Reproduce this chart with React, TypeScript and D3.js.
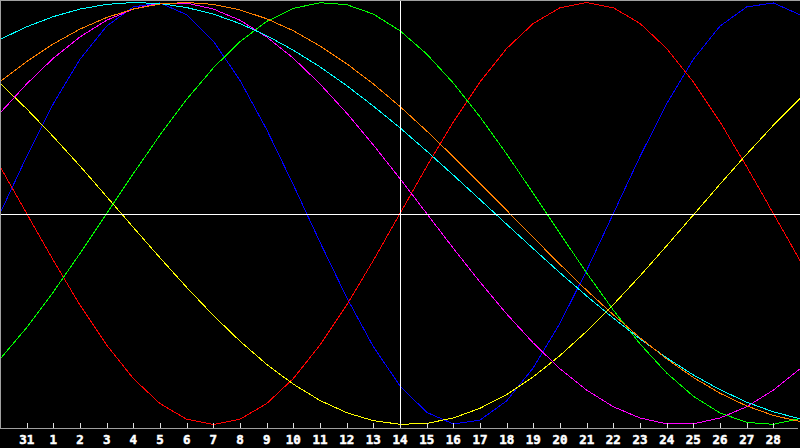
import React, { useEffect } from "react";
import * as d3 from "d3";

// Day index 0..30 (30 Dec .. 29 Jan style), ticks at index 1..29
const tickLabels = ["31","1","2","3","4","5","6","7","8","9","10","11","12","13","14","15","16","17","18","19","20","21","22","23","24","25","26","27","28"];

const blueSeries = [0,0.270,0.520,0.731,0.888,0.979,0.998,0.942,0.817,0.631,0.398,0.136,-0.136,-0.398,-0.631,-0.817,-0.942,-0.998,-0.979,-0.888,-0.731,-0.520,-0.270,0,0.270,0.520,0.731,0.888,0.979,0.998,0.942];
const redSeries = [0.2225,0,-0.2225,-0.434,-0.6235,-0.782,-0.901,-0.975,-1,-0.975,-0.901,-0.782,-0.6235,-0.434,-0.2225,0,0.2225,0.434,0.6235,0.782,0.901,0.975,1,0.975,0.901,0.782,0.6235,0.434,0.2225,0,-0.2225];
const greenSeries = [-0.690,-0.541,-0.372,-0.189,0,0.189,0.372,0.541,0.690,0.815,0.910,0.972,0.999,0.990,0.945,0.866,0.756,0.618,0.458,0.282,0.095,-0.095,-0.282,-0.458,-0.618,-0.756,-0.866,-0.945,-0.990,-0.999,-0.972];
const yellowSeries = [0.617,0.496,0.364,0.225,0.080,-0.066,-0.210,-0.350,-0.483,-0.605,-0.715,-0.809,-0.886,-0.944,-0.982,-0.999,-0.995,-0.969,-0.923,-0.858,-0.774,-0.673,-0.558,-0.432,-0.296,-0.153,-0.007,0.139,0.281,0.418,0.545];
const magentaSeries = [0.476,0.614,0.736,0.837,0.916,0.969,0.997,0.997,0.969,0.916,0.837,0.736,0.614,0.476,0.325,0.165,0,-0.165,-0.325,-0.476,-0.614,-0.736,-0.837,-0.916,-0.969,-0.997,-0.997,-0.969,-0.916,-0.837,-0.736];
const cyanSeries = [0.825,0.885,0.933,0.969,0.991,1.000,0.995,0.976,0.945,0.900,0.843,0.774,0.695,0.606,0.509,0.406,0.296,0.182,0.066,-0.051,-0.167,-0.281,-0.391,-0.496,-0.594,-0.684,-0.765,-0.835,-0.894,-0.940,-0.973];
const orangeSeries = [0.625,0.720,0.804,0.874,0.929,0.969,0.993,1.000,0.991,0.965,0.923,0.866,0.794,0.710,0.614,0.507,0.391,0.269,0.143,0.015,-0.114,-0.241,-0.364,-0.480,-0.589,-0.689,-0.777,-0.852,-0.912,-0.957,-0.986];

const seriesList = [
  { name: "blue", values: blueSeries, color: "#0000ff" },
  { name: "red", values: redSeries, color: "#ff0000" },
  { name: "green", values: greenSeries, color: "#00ff00" },
  { name: "yellow", values: yellowSeries, color: "#ffff00" },
  { name: "magenta", values: magentaSeries, color: "#ff00ff" },
  { name: "cyan", values: cyanSeries, color: "#00ffff" },
  { name: "orange", values: orangeSeries, color: "#ff8000" },
];

const W = 800;
const H = 448;

export default function App() {
  useEffect(() => {
    document.body.style.margin = "0";
    document.body.style.background = "#000";
  }, []);

  const x = d3.scaleLinear().domain([0, 30]).range([0, 800]);
  const y = d3.scaleLinear().domain([-1, 1]).range([424.5, 2.5]);
  const line = d3
    .line<number>()
    .x((_, i) => x(i))
    .y((d) => y(d));

  const axisY = 428.5;
  const zeroY = Math.round(y(0)) + 0.5;
  const midX = Math.round(x(15)) + 0.5;

  return (
    <div style={{ position: "absolute", left: 0, top: 0, width: W, height: H, background: "#000" }}>
      <svg width={W} height={H} style={{ display: "block" }}>
        <rect x={0} y={0} width={W} height={H} fill="#000" />
        <g shapeRendering="crispEdges">
          {seriesList.map((s) => (
            <path key={s.name} d={line(s.values) || ""} fill="none" stroke={s.color} strokeWidth={1} />
          ))}
          <line x1={0} x2={W} y1={zeroY} y2={zeroY} stroke="#ffffff" strokeWidth={1} />
          <line x1={midX} x2={midX} y1={0} y2={axisY} stroke="#ffffff" strokeWidth={1} />
          <line x1={0.5} x2={0.5} y1={0} y2={axisY} stroke="#a0a0a0" strokeWidth={1} />
          <line x1={0} x2={W} y1={0.5} y2={0.5} stroke="#a0a0a0" strokeWidth={1} />
          <line x1={0} x2={798} y1={axisY} y2={axisY} stroke="#a0a0a0" strokeWidth={1} />
          {tickLabels.map((t, k) => {
            const tx = Math.round(x(k + 1)) + 0.5;
            return <line key={"t" + k} x1={tx} x2={tx} y1={423} y2={428} stroke="#e0e0e0" strokeWidth={1} />;
          })}
        </g>
        {tickLabels.map((t, k) => (
          <text
            key={"l" + k}
            x={x(k + 1)}
            y={443.5}
            textAnchor="middle"
            fill="#ffffff"
            stroke="#ffffff"
            strokeWidth={0.5}
            fontFamily="'DejaVu Sans Mono', monospace"
            fontWeight="bold"
            fontSize={12.5}
          >
            {t}
          </text>
        ))}
      </svg>
    </div>
  );
}
